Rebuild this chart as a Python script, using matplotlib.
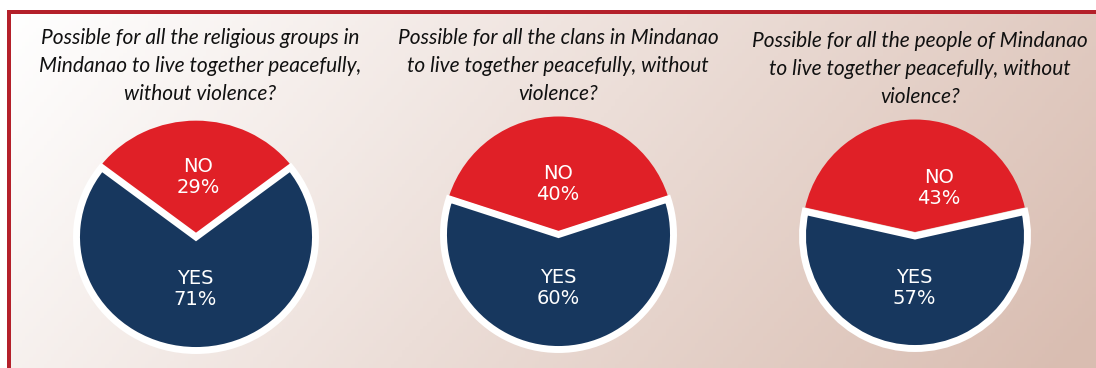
import numpy as np
import matplotlib.pyplot as plt

# data
titles = [
    "Possible for all the religious groups in\nMindanao to live together peacefully,\nwithout violence?",
    "Possible for all the clans in Mindanao\nto live together peacefully, without\nviolence?",
    "Possible for all the people of Mindanao\nto live together peacefully, without\nviolence?",
]
categories = ["NO", "YES"]
no_pct = [29, 40, 43]
yes_pct = [71, 60, 57]

slice_colors = ["#e02027", "#17375e"]
W, H = 1096, 368

# layout in pixels (x, y from top)
pie_pos = [(196, 237, 119.5, 113.5), (558.5, 234.5, 115, 115), (915, 236, 112.5, 112.5)]
explode_px = [3, 3, 4]
title_pos = [(200, 66), (558, 66), (920, 69)]
no_lab_pos = [(198, 177), (558, 184), (939, 188)]
yes_lab_pos = [(195, 289), (558, 288), (914, 288)]

fig = plt.figure(figsize=(W / 100, H / 100), dpi=100)

# background with gradient and red frame
bg = fig.add_axes([0, 0, 1, 1])
bg.set_xlim(0, W)
bg.set_ylim(H, 0)
bg.axis("off")
xx, yy = np.meshgrid(np.linspace(0, 1, 300), np.linspace(0, 1, 100))
t = np.clip(0.8 * xx + 0.22 * yy, 0, 1)[..., None]
c0 = np.array([1.0, 1.0, 1.0])
c1 = np.array([0xd9, 0xbd, 0xb1]) / 255
grad = c0 * (1 - t) + c1 * t
bg.imshow(grad, extent=[11, W, H, 14], aspect="auto", zorder=0)
bg.add_patch(plt.Rectangle((7, 10), W - 7, 4, color="#b4202a", lw=0))
bg.add_patch(plt.Rectangle((7, 10), 4, H - 10, color="#b4202a", lw=0))

pad = 1.12
for i in range(3):
    cx, cy, rx, ry = pie_pos[i]
    ax = fig.add_axes([(cx - rx * pad) / W, (H - cy - ry * pad) / H,
                       2 * rx * pad / W, 2 * ry * pad / H])
    vals = [no_pct[i], yes_pct[i]]
    start = 90 - no_pct[i] * 3.6 / 2
    wedges, _ = ax.pie(vals, colors=slice_colors, startangle=start,
                       explode=[explode_px[i] / rx, 0], radius=1,
                       wedgeprops=dict(linewidth=0))
    wedges[0].set_edgecolor("none")
    wedges[1].set_edgecolor("white")
    wedges[1].set_linewidth(5)
    wedges[1].set_joinstyle("miter")
    for w in wedges:
        w.set_clip_on(False)
    ax.set_xlim(-pad, pad)
    ax.set_ylim(-pad, pad)
    ax.set_aspect("auto")
    ax.axis("off")

    tx, ty = title_pos[i]
    fig.text(tx / W, 1 - ty / H, titles[i], ha="center", va="center",
             fontsize=15, style="italic", family="Lato", linespacing=1.5,
             color="#111111")
    nx, ny = no_lab_pos[i]
    fig.text(nx / W, 1 - ny / H, f"{categories[0]}\n{no_pct[i]}%", ha="center",
             va="center", color="white", fontsize=14, linespacing=1.15)
    yx, yy_ = yes_lab_pos[i]
    fig.text(yx / W, 1 - yy_ / H, f"{categories[1]}\n{yes_pct[i]}%", ha="center",
             va="center", color="white", fontsize=14, linespacing=1.15)

fig.savefig("out.png", dpi=100)
